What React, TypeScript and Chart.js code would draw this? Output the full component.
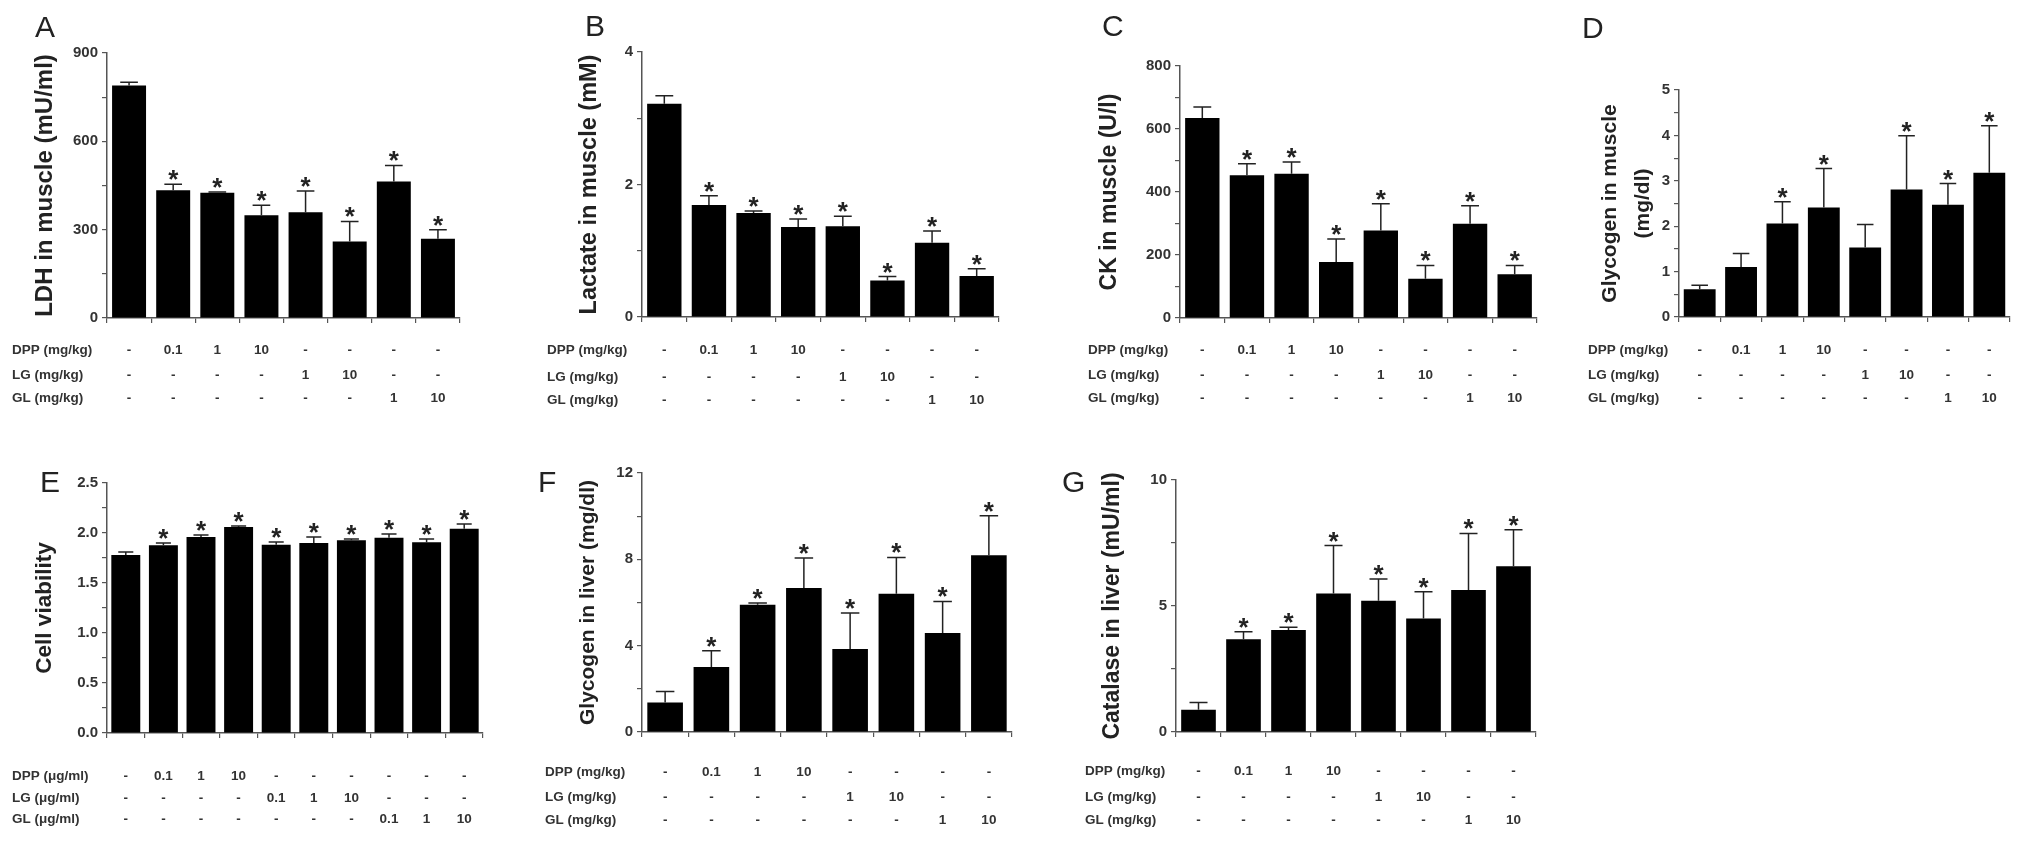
import React, { useEffect, useRef } from 'react';
import { Chart, registerables } from 'chart.js';

Chart.register(...registerables);

const FONT = "'Liberation Sans', Arial, Helvetica, sans-serif";
const AXIS = '#555555';
const INK = '#222222';

// ---------- categories / table rows ----------
const groups8 = ['Control', 'DPP 0.1', 'DPP 1', 'DPP 10', 'LG 1', 'LG 10', 'GL 1', 'GL 10'];
const groups10 = ['Control', 'DPP 0.1', 'DPP 1', 'DPP 10', 'LG 0.1', 'LG 1', 'LG 10', 'GL 0.1', 'GL 1', 'GL 10'];

const dppRow8 = ['-', '0.1', '1', '10', '-', '-', '-', '-'];
const lgRow8 = ['-', '-', '-', '-', '1', '10', '-', '-'];
const glRow8 = ['-', '-', '-', '-', '-', '-', '1', '10'];

const dppRow10 = ['-', '0.1', '1', '10', '-', '-', '-', '-', '-', '-'];
const lgRow10 = ['-', '-', '-', '-', '0.1', '1', '10', '-', '-', '-'];
const glRow10 = ['-', '-', '-', '-', '-', '-', '-', '0.1', '1', '10'];

const rowLabelsMgKg = ['DPP (mg/kg)', 'LG (mg/kg)', 'GL (mg/kg)'];
const rowLabelsUgMl = ['DPP (\u03bcg/ml)', 'LG (\u03bcg/ml)', 'GL (\u03bcg/ml)'];

// ---------- series values (mean, SEM, significance) ----------
const ldhMean = [790, 434, 425, 349, 359, 260, 464, 269];
const ldhSem = [11, 20, 3, 34, 72, 68, 54, 31];
const ldhStar = [false, true, true, true, true, true, true, true];

const lactateMean = [3.22, 1.69, 1.57, 1.36, 1.37, 0.55, 1.12, 0.62];
const lactateSem = [0.12, 0.14, 0.03, 0.12, 0.15, 0.06, 0.18, 0.11];
const lactateStar = [false, true, true, true, true, true, true, true];

const ckMean = [635, 453, 458, 178, 278, 125, 299, 139];
const ckSem = [35, 37, 37, 73, 85, 42, 57, 28];
const ckStar = [false, true, true, true, true, true, true, true];

const muscleGlyMean = [0.61, 1.1, 2.06, 2.41, 1.53, 2.81, 2.47, 3.18];
const muscleGlySem = [0.09, 0.3, 0.48, 0.86, 0.51, 1.18, 0.47, 1.03];
const muscleGlyStar = [false, false, true, true, false, true, true, true];

const viabilityMean = [1.78, 1.877, 1.96, 2.06, 1.883, 1.9, 1.927, 1.953, 1.907, 2.043];
const viabilitySem = [0.03, 0.023, 0.02, 0.01, 0.027, 0.06, 0.013, 0.037, 0.033, 0.047];
const viabilityStar = [false, true, true, true, true, true, true, true, true, true];

const liverGlyMean = [1.37, 3.01, 5.9, 6.67, 3.85, 6.41, 4.59, 8.19];
const liverGlySem = [0.51, 0.76, 0.08, 1.39, 1.66, 1.68, 1.46, 1.83];
const liverGlyStar = [false, true, true, true, true, true, true, true];

const catalaseMean = [0.88, 3.68, 4.05, 5.5, 5.21, 4.5, 5.63, 6.58];
const catalaseSem = [0.29, 0.3, 0.11, 1.9, 0.86, 1.07, 2.25, 1.45];
const catalaseStar = [false, true, true, true, true, true, true, true];

// ---------- panel layout ----------
type Spec = {
  letter: string;
  letterPos: [number, number];
  box: [number, number, number, number];
  area: [number, number, number, number];
  yMax: number;
  major: number;
  minor: number;
  decimals: number;
  title: string | string[];
  titleSize: number;
  titleLH: number;
  titleX: number;
  labels: string[];
  values: number[];
  errors: number[];
  stars: boolean[];
  tableX: number;
  rowY: number[];
  rowLabels: string[];
  rows: string[][];
};

const PANELS: Spec[] = [
  {
    letter: 'A', letterPos: [35, 37], box: [0, 0, 500, 430], area: [107, 53, 460, 318],
    yMax: 900, major: 300, minor: 150, decimals: 0,
    title: 'LDH in muscle (mU/ml)', titleSize: 24, titleLH: 1.2, titleX: 45,
    labels: groups8, values: ldhMean, errors: ldhSem, stars: ldhStar,
    tableX: 12, rowY: [350, 375, 398], rowLabels: rowLabelsMgKg, rows: [dppRow8, lgRow8, glRow8],
  },
  {
    letter: 'B', letterPos: [585, 36], box: [500, 0, 540, 430], area: [642, 52, 999, 317],
    yMax: 4, major: 2, minor: 1, decimals: 0,
    title: 'Lactate in muscle (mM)', titleSize: 23.5, titleLH: 1.2, titleX: 590,
    labels: groups8, values: lactateMean, errors: lactateSem, stars: lactateStar,
    tableX: 547, rowY: [350, 377, 400], rowLabels: rowLabelsMgKg, rows: [dppRow8, lgRow8, glRow8],
  },
  {
    letter: 'C', letterPos: [1102, 36], box: [1040, 0, 520, 430], area: [1180, 66, 1537, 318],
    yMax: 800, major: 200, minor: 100, decimals: 0,
    title: 'CK in muscle (U/l)', titleSize: 23, titleLH: 1.2, titleX: 1110,
    labels: groups8, values: ckMean, errors: ckSem, stars: ckStar,
    tableX: 1088, rowY: [350, 375, 398], rowLabels: rowLabelsMgKg, rows: [dppRow8, lgRow8, glRow8],
  },
  {
    letter: 'D', letterPos: [1582, 38], box: [1560, 0, 471, 430], area: [1679, 90, 2010, 317],
    yMax: 5, major: 1, minor: 0.5, decimals: 0,
    title: ['Glycogen in muscle', '(mg/dl)'], titleSize: 21, titleLH: 1.57, titleX: 1610,
    labels: groups8, values: muscleGlyMean, errors: muscleGlySem, stars: muscleGlyStar,
    tableX: 1588, rowY: [350, 375, 398], rowLabels: rowLabelsMgKg, rows: [dppRow8, lgRow8, glRow8],
  },
  {
    letter: 'E', letterPos: [40, 492], box: [0, 430, 520, 411], area: [107, 483, 483, 733],
    yMax: 2.5, major: 0.5, minor: 0.25, decimals: 1,
    title: 'Cell viability', titleSize: 22.5, titleLH: 1.2, titleX: 45,
    labels: groups10, values: viabilityMean, errors: viabilitySem, stars: viabilityStar,
    tableX: 12, rowY: [776, 798, 819], rowLabels: rowLabelsUgMl, rows: [dppRow10, lgRow10, glRow10],
  },
  {
    letter: 'F', letterPos: [538, 492], box: [520, 430, 520, 411], area: [642, 473, 1012, 732],
    yMax: 12, major: 4, minor: 2, decimals: 0,
    title: 'Glycogen in liver (mg/dl)', titleSize: 21, titleLH: 1.2, titleX: 588,
    labels: groups8, values: liverGlyMean, errors: liverGlySem, stars: liverGlyStar,
    tableX: 545, rowY: [772, 797, 820], rowLabels: rowLabelsMgKg, rows: [dppRow8, lgRow8, glRow8],
  },
  {
    letter: 'G', letterPos: [1062, 492], box: [1040, 430, 520, 411], area: [1176, 480, 1536, 732],
    yMax: 10, major: 5, minor: 2.5, decimals: 0,
    title: 'Catalase in liver (mU/ml)', titleSize: 23, titleLH: 1.2, titleX: 1113,
    labels: groups8, values: catalaseMean, errors: catalaseSem, stars: catalaseStar,
    tableX: 1085, rowY: [771, 797, 820], rowLabels: rowLabelsMgKg, rows: [dppRow8, lgRow8, glRow8],
  },
];

function decoPlugin(p: Spec) {
  return {
    id: 'deco' + p.letter,
    afterDraw(chart: any) {
      const ctx: CanvasRenderingContext2D = chart.ctx;
      const xs = chart.scales.x;
      const ys = chart.scales.y;
      const meta = chart.getDatasetMeta(0);
      const bx = p.box[0];
      const by = p.box[1];
      ctx.save();
      // error bars + significance marks
      ctx.strokeStyle = INK;
      ctx.lineWidth = 1.5;
      p.values.forEach((v, i) => {
        const el = meta.data[i];
        const x = el.x;
        const y0 = ys.getPixelForValue(v);
        const y1 = ys.getPixelForValue(v + p.errors[i]);
        const half = el.width * 0.26;
        ctx.beginPath();
        ctx.moveTo(x, y0);
        ctx.lineTo(x, y1);
        ctx.moveTo(x - half, y1);
        ctx.lineTo(x + half, y1);
        ctx.stroke();
        if (p.stars[i]) {
          ctx.font = `bold 26px ${FONT}`;
          ctx.fillStyle = INK;
          ctx.textAlign = 'center';
          ctx.textBaseline = 'alphabetic';
          const m = ctx.measureText('*');
          const cy = y1 - 9;
          const off = (m.actualBoundingBoxAscent - m.actualBoundingBoxDescent) / 2;
          ctx.fillText('*', x, cy + off);
        }
      });
      // treatment table
      ctx.font = `bold 13.5px ${FONT}`;
      ctx.fillStyle = '#333333';
      ctx.textBaseline = 'middle';
      p.rows.forEach((row, r) => {
        const y = p.rowY[r] - by;
        ctx.textAlign = 'left';
        ctx.fillText(p.rowLabels[r], p.tableX - bx, y);
        ctx.textAlign = 'center';
        row.forEach((txt, i) => {
          ctx.fillText(txt, xs.getPixelForValue(i), y);
        });
      });
      // panel letter
      ctx.font = `30px ${FONT}`;
      ctx.fillStyle = INK;
      ctx.textAlign = 'left';
      ctx.textBaseline = 'alphabetic';
      ctx.fillText(p.letter, p.letterPos[0] - bx, p.letterPos[1] - by);
      ctx.restore();
    },
  };
}

function buildChart(canvas: HTMLCanvasElement, p: Spec) {
  const [bx, by, bw, bh] = p.box;
  const [L, T, R, B] = p.area;
  const xAxisH = 5;
  const yW = L - bx;
  const lh = p.titleSize * p.titleLH;
  const titlePad = p.titleX - bx - lh / 2;
  return new Chart(canvas, {
    type: 'bar',
    data: {
      labels: p.labels,
      datasets: [
        {
          data: p.values,
          backgroundColor: '#000000',
          borderWidth: 0,
          barPercentage: 0.77,
          categoryPercentage: 1,
        },
      ],
    },
    options: {
      responsive: false,
      animation: false,
      devicePixelRatio: 1,
      layout: {
        padding: { left: 0, top: T - by, right: bx + bw - R, bottom: by + bh - B - xAxisH },
      },
      plugins: {
        legend: { display: false },
        tooltip: { enabled: false },
        title: { display: false },
      },
      scales: {
        x: {
          type: 'category',
          offset: true,
          grid: {
            offset: true,
            drawOnChartArea: false,
            drawTicks: true,
            tickLength: xAxisH,
            color: AXIS,
            lineWidth: 1.2,
          },
          border: { display: true, color: AXIS, width: 1.5 },
          ticks: { display: false },
          afterFit: (s: any) => {
            s.height = xAxisH;
          },
        },
        y: {
          type: 'linear',
          min: 0,
          max: p.yMax,
          grid: {
            drawOnChartArea: false,
            drawTicks: true,
            tickLength: 5,
            color: AXIS,
            lineWidth: 1.2,
          },
          border: { display: true, color: AXIS, width: 1.5 },
          ticks: {
            stepSize: p.minor,
            autoSkip: false,
            padding: 4,
            color: '#333333',
            font: { family: FONT, size: 15, weight: 'bold' },
            callback: (v: any) => {
              const n = Number(v);
              const q = n / p.major;
              return Math.abs(q - Math.round(q)) < 1e-6 ? n.toFixed(p.decimals) : '';
            },
          },
          title: {
            display: true,
            text: p.title,
            color: INK,
            font: { family: FONT, size: p.titleSize, weight: 'bold', lineHeight: p.titleLH },
            padding: { top: titlePad, bottom: 0 },
          },
          afterFit: (s: any) => {
            s.width = yW;
          },
        },
      },
    } as any,
    plugins: [decoPlugin(p)],
  });
}

function Panel({ spec }: { spec: Spec }) {
  const ref = useRef<HTMLCanvasElement | null>(null);
  useEffect(() => {
    if (!ref.current) return;
    const chart = buildChart(ref.current, spec);
    return () => chart.destroy();
  }, [spec]);
  const [x, y, w, h] = spec.box;
  return (
    <canvas
      ref={ref}
      width={w}
      height={h}
      style={{ position: 'absolute', left: x, top: y, width: w, height: h }}
    />
  );
}

export default function App() {
  return (
    <div
      style={{
        position: 'absolute',
        left: 0,
        top: 0,
        width: 2031,
        height: 841,
        background: '#ffffff',
        overflow: 'hidden',
      }}
    >
      {PANELS.map((p) => (
        <Panel key={p.letter} spec={p} />
      ))}
    </div>
  );
}
